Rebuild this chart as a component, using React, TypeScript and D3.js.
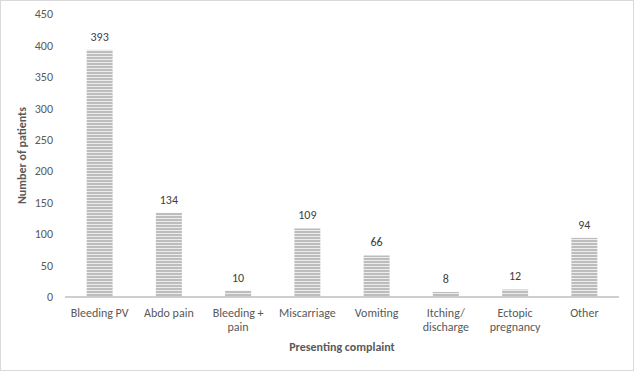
import * as d3 from "d3";

const categories = [
  "Bleeding PV",
  "Abdo pain",
  "Bleeding + pain",
  "Miscarriage",
  "Vomiting",
  "Itching/ discharge",
  "Ectopic pregnancy",
  "Other",
];
const values = [393, 134, 10, 109, 66, 8, 12, 94];
const yTicks = [0, 50, 100, 150, 200, 250, 300, 350, 400, 450];
// how the category labels wrap
const labelLines = [
  ["Bleeding PV"],
  ["Abdo pain"],
  ["Bleeding +", "pain"],
  ["Miscarriage"],
  ["Vomiting"],
  ["Itching/", "discharge"],
  ["Ectopic", "pregnancy"],
  ["Other"],
];

const W = 634;
const H = 371;
const margin = { top: 14, right: 15, bottom: 74, left: 65 };
const font = "Calibri, Carlito, 'Liberation Sans', Arial, sans-serif";

const App = () => {
  const x = d3
    .scaleBand()
    .domain(categories)
    .range([margin.left, W - margin.right])
    .paddingInner(0.625)
    .paddingOuter(0.3125);
  const y = d3
    .scaleLinear()
    .domain([0, 450])
    .range([H - margin.bottom, margin.top]);

  const y0 = y(0);

  return (
    <svg
      width={W}
      height={H}
      style={{ position: "absolute", left: 0, top: 0, display: "block" }}
      fontFamily={font}
    >
      <defs>
        <pattern id="stripes" width={4} height={3} patternUnits="userSpaceOnUse">
          <rect width={4} height={3} fill="#ececec" />
          <rect width={4} height={2} fill="#bdbdbd" />
        </pattern>
      </defs>
      <rect x={0.5} y={0.5} width={W - 1} height={H - 1} fill="#fff" stroke="#d9d9d9" />

      {yTicks.map((t) => (
        <text
          key={t}
          x={53}
          y={y(t)}
          dy="0.35em"
          textAnchor="end"
          fontSize={12}
          fill="#595959"
        >
          {t}
        </text>
      ))}

      {values.map((v, i) => {
        const c = categories[i];
        const bx = x(c) as number;
        return (
          <g key={c}>
            <rect
              x={bx}
              y={y(v)}
              width={x.bandwidth()}
              height={y0 - y(v)}
              fill="url(#stripes)"
            />
            <text
              x={bx + x.bandwidth() / 2}
              y={y(v) - 9}
              textAnchor="middle"
              fontSize={12}
              fill="#404040"
            >
              {v}
            </text>
          </g>
        );
      })}

      <line
        x1={margin.left}
        x2={W - margin.right}
        y1={y0}
        y2={y0}
        stroke="#bfbfbf"
        strokeWidth={1.5}
      />

      {labelLines.map((lines, i) => {
        const cx = (x(categories[i]) as number) + x.bandwidth() / 2;
        return (
          <text key={i} textAnchor="middle" fontSize={12} fill="#595959">
            {lines.map((l, j) => (
              <tspan key={j} x={cx} y={y0 + 20 + j * 14}>
                {l}
              </tspan>
            ))}
          </text>
        );
      })}

      <text
        x={(margin.left + W - margin.right) / 2}
        y={351}
        textAnchor="middle"
        fontSize={12}
        fontWeight="bold"
        fill="#595959"
      >
        Presenting complaint
      </text>
      <text
        transform={`translate(26,${(margin.top + y0) / 2}) rotate(-90)`}
        textAnchor="middle"
        fontSize={12}
        fontWeight="bold"
        fill="#595959"
      >
        Number of patients
      </text>
    </svg>
  );
};

export default App;
